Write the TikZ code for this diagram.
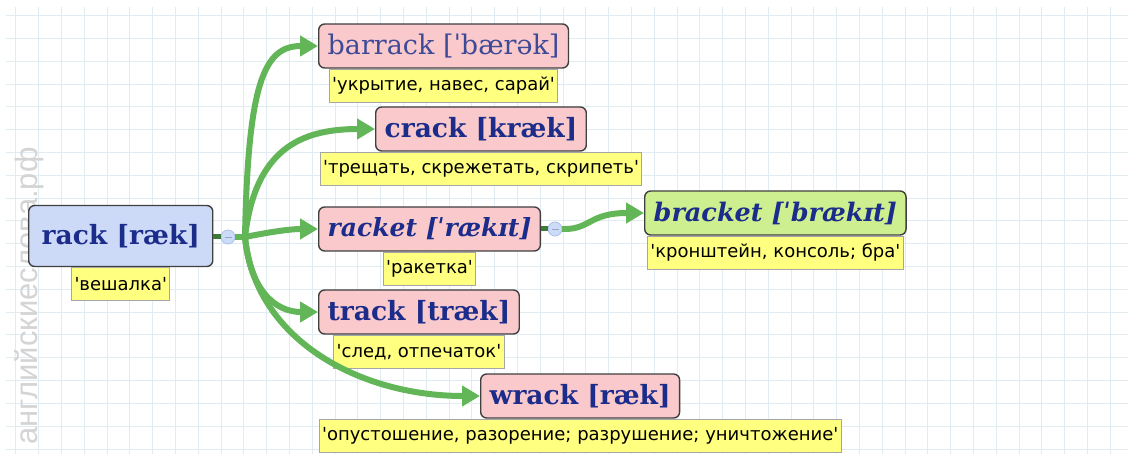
\documentclass[tikz,border=0pt]{standalone}
\usepackage{fontspec}
\setmainfont{DejaVu Sans}
\newfontfamily\wordfont{DejaVu Serif}
\newfontfamily\glossfont{DejaVu Sans}[Ligatures=TeXOff]
\newfontfamily\markfont{Liberation Sans}
\usepackage{tikz}
\usetikzlibrary{
  arrows.meta,
  positioning,
}

\definecolor{gridblue}{HTML}{E1EBF2}
\definecolor{wordpink}{HTML}{F9C9CB}
\definecolor{wordblue}{HTML}{CCDAF8}
\definecolor{wordgreen}{HTML}{CDEF8F}
\definecolor{glossyellow}{HTML}{FFFF80}
\definecolor{linkgreen}{HTML}{62B658}
\definecolor{stubgreen}{HTML}{3C7A3A}
\definecolor{inknavy}{HTML}{1B2C8A}
\definecolor{inkpale}{HTML}{3E4A98}
\definecolor{knobblue}{HTML}{CCDBF7}
\definecolor{knobrim}{HTML}{A9C1EC}

\begin{document}
\begin{tikzpicture}[
  x=1pt, y=-1pt,
  word/.style={draw=black!75, line width=1.4pt, rounded corners=6pt,
    fill=wordpink, text=inknavy, minimum height=44pt, inner xsep=9pt,
    font=\wordfont\bfseries\fontsize{26.5}{30}\selectfont, anchor=west},
  gloss/.style={draw=black!35, line width=1pt, fill=glossyellow,
    minimum height=33pt, inner xsep=3pt, inner ysep=2pt,
    font=\glossfont\fontsize{18}{20}\selectfont},
  knob/.style={circle, draw=knobrim, line width=0.8pt, fill=knobblue,
    minimum size=14pt, inner sep=0pt,
    path picture={\draw[knobrim!60!gray, line width=0.8pt]
      ([xshift=-3.5pt]path picture bounding box.center) --
      ([xshift=3.5pt]path picture bounding box.center);}},
  stub/.style={stubgreen, line width=5pt},
  link/.style={linkgreen, line width=6pt, -{Triangle[length=18pt,width=20pt]}},
]
\useasboundingbox (0,0) rectangle (1128,454);

% squared paper
\fill[white] (0,0) rectangle (1128,454);
\foreach \g in {0,...,48}{
  \draw[gridblue] ({15.5+22.8*\g},7) -- ++(0,447);
}
\foreach \g in {0,...,19}{
  \draw[gridblue] (6,{15.5+22.8*\g}) -- ++(1122,0);
}

\node[rotate=90, text=black!17, font=\markfont\fontsize{31}{34}\selectfont]
  (mark) at (29,296) {английскиеслова.рф};

% words
\node[word, fill=wordblue, minimum height=61pt, inner xsep=13pt] (rack) at (28,236) {rack [ræk]};
\node[word, text=inkpale, font=\wordfont\fontsize{27}{30}\selectfont] (barrack) at (318,46) {barrack [ˈbærək]};
\node[word] (crack) at (375,129) {crack [kræk]};
\node[word, font=\wordfont\bfseries\itshape\fontsize{25}{30}\selectfont] (racket) at (318,229) {racket [ˈrækɪt]};
\node[word, fill=wordgreen, font=\wordfont\bfseries\itshape\fontsize{25.5}{30}\selectfont] (bracket) at (644,213) {bracket [ˈbrækɪt]};
\node[word] (track) at (318,312) {track [træk]};
\node[word] (wrack) at (480,396) {wrack [ræk]};

% glosses
\node[gloss, below=0pt of rack] (rack-tr) {'вешалка'};
\node[gloss, below=0pt of barrack] (barrack-tr) {'укрытие, навес, сарай'};
\node[gloss, below=0pt of crack] (crack-tr) {'трещать, скрежетать, скрипеть'};
\node[gloss, below=0pt of racket] (racket-tr) {'ракетка'};
\node[gloss, below=0pt of bracket] (bracket-tr) {'кронштейн, консоль; бра'};
\node[gloss, below=0pt of track] (track-tr) {'след, отпечаток'};
\node[gloss, below=0pt of wrack] (wrack-tr) {'опустошение, разорение; разрушение; уничтожение'};

% collapse knobs
\node[knob] (rack-k) at (228,237) {};
\node[knob] (racket-k) at (555,229) {};
\coordinate (fork) at (245,237);
\coordinate (bend) at (565,229);

\draw[stub] (rack.east |- rack-k) -- (rack-k.west);
\draw[stub] (racket.east |- racket-k) -- (racket-k.west);
\draw[linkgreen, line width=6pt] (rack-k.east) -- (fork);
\draw[linkgreen, line width=6pt] (racket-k.east) -- (bend);

\draw[link] (fork) .. controls (248,80) and (265,46) .. (barrack.west);
\draw[link] (fork) .. controls (255,150) and (300,129) .. (crack.west);
\draw[link] (fork) .. controls (270,232) and (290,229) .. (racket.west);
\draw[link] (fork) .. controls (250,290) and (275,312) .. (track.west);
\draw[link] (fork) .. controls (255,340) and (360,396) .. (wrack.west);
\draw[link] (bend) .. controls (590,229) and (590,213) .. (bracket.west);

\end{tikzpicture}
\end{document}
